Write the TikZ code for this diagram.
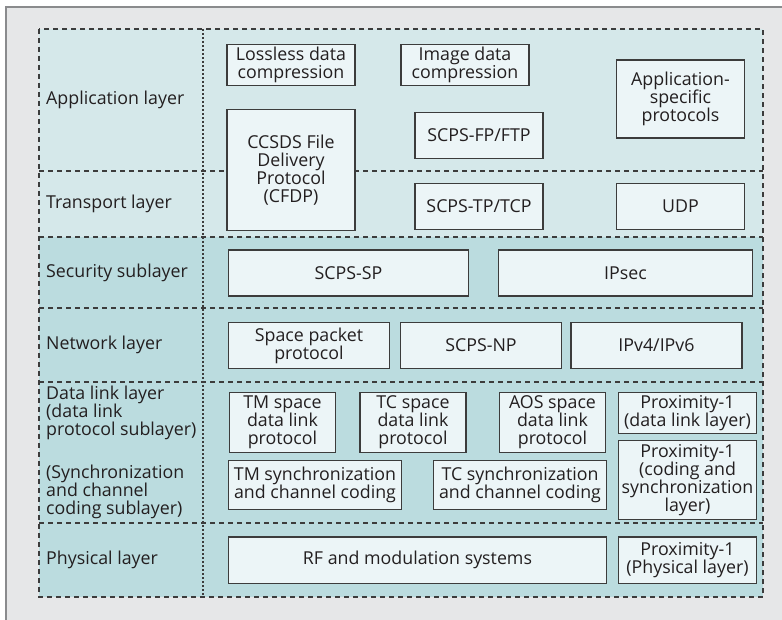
\documentclass[tikz,border=0pt]{standalone}
\usepackage{fontspec}
\setmainfont{Open Sans}
\definecolor{pagegray}{HTML}{E6E7E8}
\definecolor{rimgray}{HTML}{8A8B8D}
\definecolor{upperteal}{HTML}{D5E8EA}
\definecolor{lowerteal}{HTML}{BBDCDF}
\definecolor{boxfill}{HTML}{ECF5F7}
\definecolor{linegray}{HTML}{3C3C3C}
\definecolor{inkgray}{HTML}{231F20}

\begin{document}
\begin{tikzpicture}[x=1pt, y=-1pt,
            every node/.style={text=inkgray, font=\fontsize{17.8}{17.9}\selectfont},
            box/.style={draw=linegray, fill=boxfill, line width=1.3pt, align=center, inner sep=0pt},
            layername/.style={anchor=west, align=left, inner sep=0pt},
            layerline/.style={draw=linegray, line width=1.2pt, dash pattern=on 5pt off 4pt},
            splitline/.style={draw=linegray, line width=1.1pt, dash pattern=on 2pt off 2pt}]
            \useasboundingbox (0,0) rectangle (782,620);
            \fill[white] (0,0) rectangle (782,620);
            \fill[pagegray] (6,7) rectangle (782,620);
            \draw[rimgray, line width=2pt] (6,620) -- (6,7) -- (782,7);
            % layer bands
            \fill[upperteal] (39,29) rectangle (763,237);
            \fill[lowerteal] (39,237) rectangle (763,597);
            \foreach \y in {171,237,308,382,523}
                \draw[layerline] (39,\y) -- (763,\y);
            \draw[layerline] (39,29) rectangle (763,597);
            \draw[splitline] (203,29) -- (203,597);
            % layer names
            \node[layername] (app) at (46,100) {Application layer};
            \node[layername] (trans) at (46,204) {Transport layer};
            \node[layername] (sec) at (46,273) {Security sublayer};
            \node[layername] (net) at (46,345) {Network layer};
            \node[layername] (dll) at (46,413) {Data link layer\\(data link\\protocol sublayer)};
            \node[layername] (sync) at (46,492) {(Synchronization\\and channel\\coding sublayer)};
            \node[layername] (phy) at (46,560) {Physical layer};
            % protocols
            \node[box, minimum width=128pt, minimum height=41pt] (lossless) at (291,65) {Lossless data\\compression};
            \node[box, minimum width=128pt, minimum height=41pt] (image) at (465,65) {Image data\\compression};
            \node[box, minimum width=128pt, minimum height=78pt] (appspec) at (680.5,99) {Application-\\specific\\protocols};
            \node[box, minimum width=128pt, minimum height=121pt] (cfdp) at (291,170) {CCSDS File\\Delivery\\Protocol\\(CFDP)};
            \node[box, minimum width=128pt, minimum height=46.5pt] (scpsfp) at (479,135.5) {SCPS-FP/FTP};
            \node[box, minimum width=128pt, minimum height=46.5pt] (scpstp) at (479,206.5) {SCPS-TP/TCP};
            \node[box, minimum width=128pt, minimum height=46.5pt] (udp) at (680.5,206.5) {UDP};
            \node[box, minimum width=240pt, minimum height=46pt] (scpssp) at (348.5,273) {SCPS-SP};
            \node[box, minimum width=254pt, minimum height=46pt] (ipsec) at (625.5,273) {IPsec};
            \node[box, minimum width=161pt, minimum height=46.5pt] (spp) at (309,345.5) {Space packet\\protocol};
            \node[box, minimum width=160.5pt, minimum height=46.5pt] (scpsnp) at (481,345.5) {SCPS-NP};
            \node[box, minimum width=171pt, minimum height=46.5pt] (ipv) at (656.5,345.5) {IPv4/IPv6};
            \node[box, minimum width=106pt, minimum height=60pt] (tmdl) at (282.5,422.3) {TM space\\data link\\protocol};
            \node[box, minimum width=106pt, minimum height=60pt] (tcdl) at (413,422.3) {TC space\\data link\\protocol};
            \node[box, minimum width=106pt, minimum height=60pt] (aosdl) at (552.5,422.3) {AOS space\\data link\\protocol};
            \node[box, minimum width=138pt, minimum height=41pt] (proxdl) at (687.5,413) {Proximity-1\\(data link layer)};
            \node[box, minimum width=173pt, minimum height=49pt] (tmsync) at (315,485) {TM synchronization\\and channel coding};
            \node[box, minimum width=173pt, minimum height=49pt] (tcsync) at (520,485) {TC synchronization\\and channel coding};
            \node[box, minimum width=138pt, minimum height=79pt] (proxcs) at (687.5,480) {Proximity-1\\(coding and\\synchronization\\layer)};
            \node[box, minimum width=378pt, minimum height=46.5pt] (rf) at (417.5,560.3) {RF and modulation systems};
            \node[box, minimum width=138pt, minimum height=46.5pt] (proxphy) at (687.5,560.3) {Proximity-1\\(Physical layer)};
        \end{tikzpicture}
\end{document}
